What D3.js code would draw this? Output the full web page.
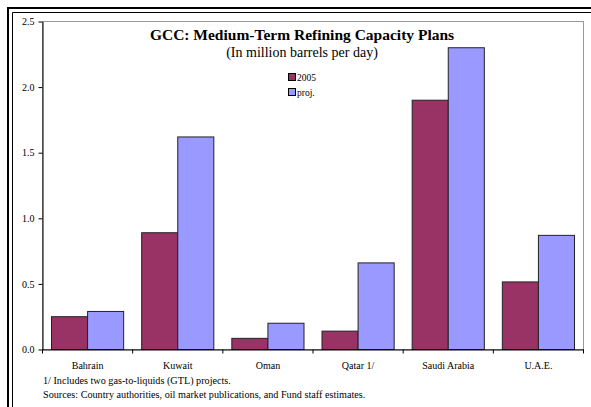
<!DOCTYPE html>
<html><head><meta charset="utf-8">
<script src="https://cdn.jsdelivr.net/npm/d3@7"></script>
<style>body{margin:0;background:#fff}svg{display:block}</style>
</head><body>
<script>
const categories = ["Bahrain","Kuwait","Oman","Qatar 1/","Saudi Arabia","U.A.E."];
const series2005 = [0.25,0.89,0.085,0.14,1.90,0.515];
const seriesProj = [0.29,1.62,0.20,0.66,2.30,0.87];
const seriesNames = ["2005","proj."];
const yTicks = [0.0,0.5,1.0,1.5,2.0,2.5];
const colors = ["#993366","#9999FF"];

const W=591,H=407;
const svg=d3.select("body").append("svg").attr("width",W).attr("height",H);
const font="'Liberation Serif','Times New Roman',serif";

// frame (double line)
svg.append("path").attr("d","M8,407V8H591").attr("fill","none").attr("stroke","#000").attr("stroke-width",2);
svg.append("path").attr("d","M12.5,407V12.5H591").attr("fill","none").attr("stroke","#000").attr("stroke-width",1);

const L=42,R=583,T=21,B=349;
const x=d3.scaleBand().domain(categories).range([L,R]).paddingInner(0).paddingOuter(0);
const y=d3.scaleLinear().domain([0,2.5]).range([B,T]);
const pad=9;
const bw=(x.bandwidth()-2*pad)/2;

// plot area border
svg.append("rect").attr("x",L+0.5).attr("y",T+0.5).attr("width",R-L).attr("height",B-T)
  .attr("fill","none").attr("stroke","#999").attr("stroke-width",1);

const data=categories.map((c,i)=>({c,v:[series2005[i],seriesProj[i]]}));
const g=svg.append("g");
data.forEach(d=>{
  d.v.forEach((v,j)=>{
    g.append("rect")
      .attr("x",x(d.c)+pad+j*bw+0.5)
      .attr("y",y(v)+0.5)
      .attr("width",bw)
      .attr("height",B-y(v))
      .attr("fill",colors[j]).attr("stroke","#222").attr("stroke-width",1);
  });
});

// y axis
const ya=svg.append("g").attr("transform",`translate(${L+0.5},0.5)`)
  .call(d3.axisLeft(y).tickValues(yTicks).tickFormat(d3.format(".1f")).tickSize(4).tickSizeOuter(0));
ya.select(".domain").attr("stroke","#000");
ya.selectAll("text").attr("font-family",font).attr("font-size",10).attr("fill","#000").attr("dx",-1);

// x axis
const xa=svg.append("g").attr("transform",`translate(0.5,${B+0.5})`)
  .call(d3.axisBottom(x).tickSize(0).tickSizeOuter(0));
xa.select(".domain").attr("stroke","#000");
xa.selectAll("text").attr("font-family",font).attr("font-size",10).attr("fill","#000").attr("dy","1.6em");
const bounds=d3.range(categories.length+1).map(i=>L+i*x.step());
xa.selectAll(".bt").data(bounds).enter().append("line").attr("class","bt")
  .attr("x1",d=>d).attr("x2",d=>d).attr("y1",0).attr("y2",4).attr("stroke","#000");

// titles
svg.append("text").attr("x",302).attr("y",40).attr("text-anchor","middle")
  .attr("font-family",font).attr("font-weight","bold").attr("font-size",15.5).text("GCC: Medium-Term Refining Capacity Plans");
svg.append("text").attr("x",302).attr("y",57).attr("text-anchor","middle")
  .attr("font-family",font).attr("font-size",14).text("(In million barrels per day)");

// legend
seriesNames.forEach((n,i)=>{
  const ly=73+i*15;
  svg.append("rect").attr("x",288.5).attr("y",ly+0.5).attr("width",7).attr("height",7)
    .attr("fill",colors[i]).attr("stroke","#000").attr("stroke-width",1);
  svg.append("text").attr("x",297).attr("y",ly+7.5).attr("font-family",font).attr("font-size",9.5).text(n);
});

// footnotes
svg.append("text").attr("x",43).attr("y",384).attr("font-family",font).attr("font-size",10.2).text("1/ Includes two gas-to-liquids (GTL) projects.");
svg.append("text").attr("x",43).attr("y",398).attr("font-family",font).attr("font-size",10.2).text("Sources: Country authorities, oil market publications, and Fund staff estimates.");
</script>
</body></html>
